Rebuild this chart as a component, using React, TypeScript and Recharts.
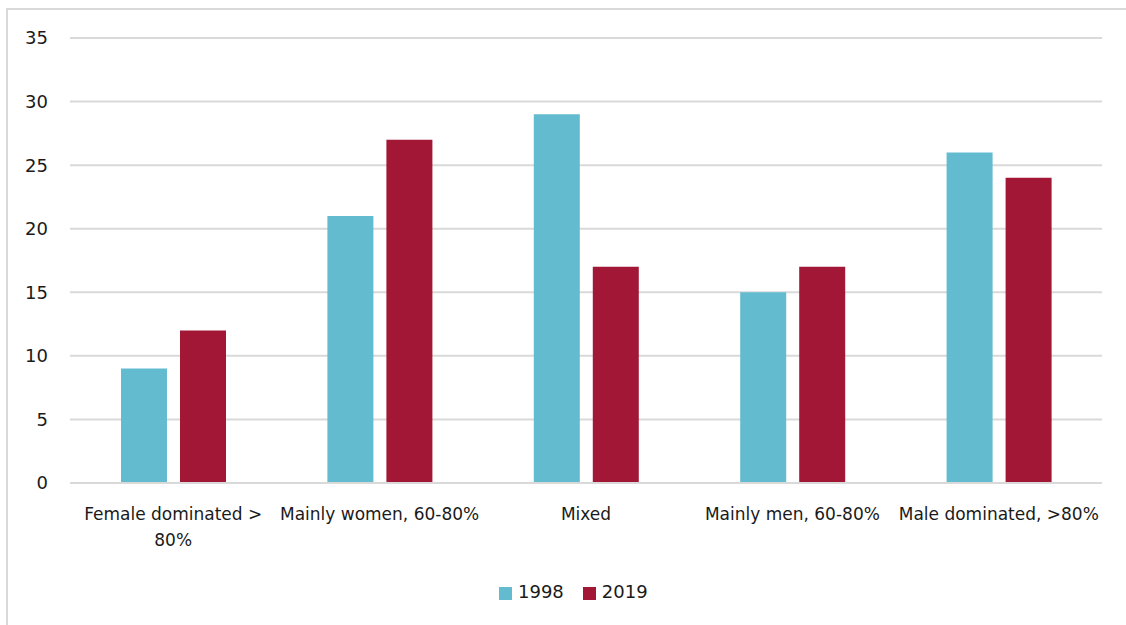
import { BarChart, Bar, XAxis, YAxis, CartesianGrid, Legend } from 'recharts';

const categories = ['Female dominated >\n80%', 'Mainly women, 60-80%', 'Mixed', 'Mainly men, 60-80%', 'Male dominated, >80%'];
const values1998 = [9, 21, 29, 15, 26];
const values2019 = [12, 27, 17, 17, 24];
const yTicks = [0, 5, 10, 15, 20, 25, 30, 35];

const FONT = '"DejaVu Sans", sans-serif';

const data = categories.map((c, i) => ({ name: c, y1998: values1998[i], y2019: values2019[i] }));

// multi-line category labels, split on \n
function CategoryTick(props: any) {
  const { x, y, payload } = props;
  const lines = String(payload.value).split('\n');
  return (
    <text x={x} y={y} textAnchor="middle" fill="#1a1a1a" fontSize={17} fontFamily={FONT}>
      {lines.map((l: string, i: number) => (
        <tspan key={i} x={x} dy={i === 0 ? 29 : 26}>{l}</tspan>
      ))}
    </text>
  );
}

export default function App() {
  return (
    <div style={{ position: 'fixed', left: 0, top: 0, width: 1126, height: 625, overflow: 'hidden', background: '#fff' }}>
      <div style={{ position: 'absolute', left: 6, top: 8, width: 1200, height: 700, border: '2px solid #d9d9d9' }} />
      <div style={{ position: 'absolute', left: 0, top: 0 }}>
        <BarChart width={1126} height={625} data={data} margin={{ top: 38, right: 24, left: 0, bottom: 41 }} barGap={13} barSize={46}>
          <CartesianGrid vertical={false} stroke="#d9d9d9" strokeWidth={2} />
          <XAxis
            dataKey="name"
            height={80}
            interval={0}
            tick={<CategoryTick />}
            tickLine={false}
            axisLine={{ stroke: '#d9d9d9', strokeWidth: 2 }}
          />
          <YAxis
            width={70}
            domain={[0, 35]}
            ticks={yTicks}
            tickLine={false}
            axisLine={false}
            tickMargin={16}
            tick={{ fill: '#1a1a1a', fontSize: 18, fontFamily: FONT }}
          />
          <Legend
            iconType="square"
            iconSize={13}
            wrapperStyle={{ top: 581, bottom: 'auto', left: 499, width: 'auto', fontFamily: FONT, fontSize: 18 }}
            formatter={(v: string) => <span style={{ color: '#1a1a1a', marginLeft: 2, paddingRight: 9 }}>{v}</span>}
          />
          <Bar dataKey="y1998" name="1998" fill="#62bbcf" isAnimationActive={false} />
          <Bar dataKey="y2019" name="2019" fill="#a31736" isAnimationActive={false} />
        </BarChart>
      </div>
    </div>
  );
}
